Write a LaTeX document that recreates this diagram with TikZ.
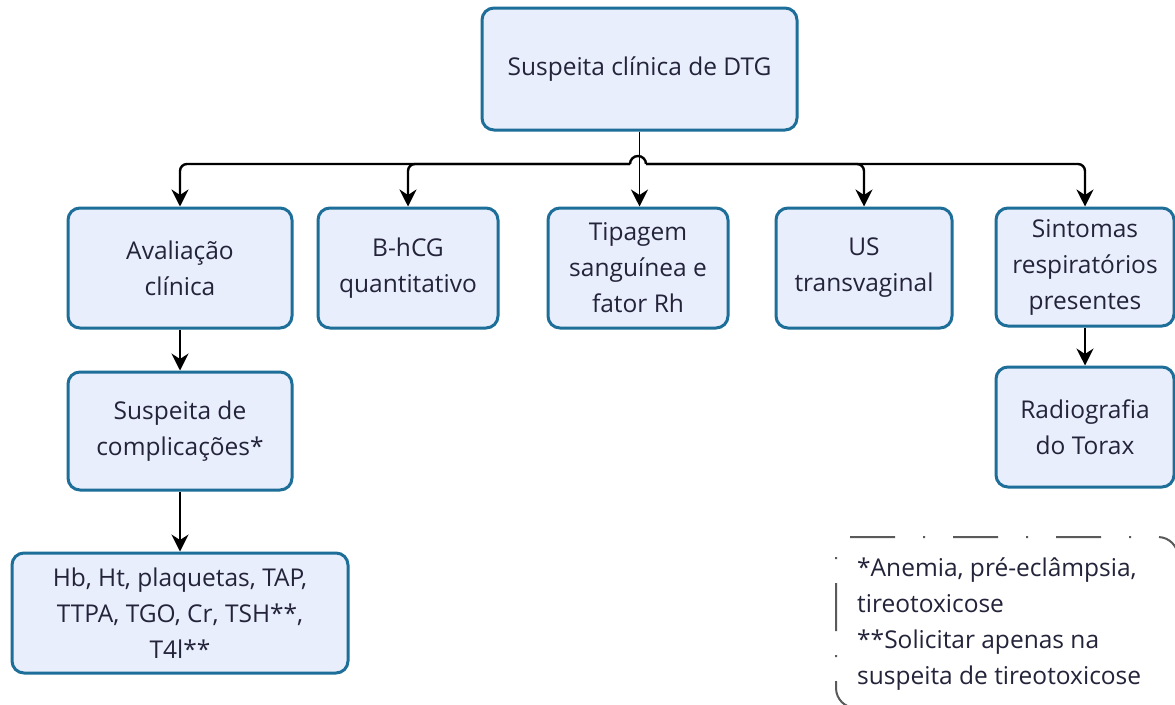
\documentclass[tikz,border=0pt]{standalone}
\usepackage{fontspec}
\setmainfont{Open Sans}
\usetikzlibrary{arrows.meta}
\definecolor{boxfill}{HTML}{E9EEFC}
\definecolor{boxline}{HTML}{1D6E98}
\definecolor{txt}{HTML}{23233A}
\definecolor{notegray}{HTML}{5A5A5A}
\tikzset{
  box/.style={draw=boxline, line width=3pt, fill=boxfill, rounded corners=12pt,
    align=center, text=txt, font=\fontsize{24.5}{36}\selectfont, inner sep=0pt},
  arr/.style={draw=black, line width=1.8pt, -{Stealth[length=17pt,width=17pt]}},
  bus/.style={draw=black, line width=2.4pt, rounded corners=7pt},
  notedash/.style={draw=notegray, line width=2pt, rounded corners=20pt, dash pattern=on 45pt off 28pt on 2pt off 28pt},
}
\begin{document}
\begin{tikzpicture}[x=1pt,y=-1pt]
\useasboundingbox (0,0) rectangle (1175,704);
\fill[white] (0,0) rectangle (1175,704);
\begin{scope}
\clip (0,0) rectangle (1175,704);
\coordinate (nA) at (850,537);
\coordinate (nB) at (836,557);
\draw[notedash] (nA) -- (1178,537) -- (1178,760);
\draw[notedash, dash pattern=on 2pt off 24pt on 48pt off 24pt] (nB) -- (836,708) -- (1100,708);
\end{scope}
\node[anchor=north west, align=left, text=txt, font=\fontsize{24.5}{36}\selectfont, inner sep=0pt]
  (notetext) at (857,558) {*Anemia, pré-eclâmpsia,\\tireotoxicose\\**Solicitar apenas na\\suspeita de tireotoxicose};

\node[box, minimum width=315pt, minimum height=122pt] (top) at (639.5,69) {Suspeita clínica de DTG};
\node[box, minimum width=224pt, minimum height=120pt] (aval) at (180,268) {Avaliação\\clínica};
\node[box, minimum width=180pt, minimum height=120pt] (bhcg) at (408,268) {B-hCG\\quantitativo};
\node[box, minimum width=180pt, minimum height=120pt] (tip) at (638,268) {Tipagem\\sanguínea e\\fator Rh};
\node[box, minimum width=176pt, minimum height=120pt] (us) at (864,268) {US\\transvaginal};
\node[box, minimum width=178pt, minimum height=118pt] (sint) at (1085,267) {Sintomas\\respiratórios\\presentes};
\node[box, minimum width=224pt, minimum height=118pt] (comp) at (180,431) {Suspeita de\\complicações*};
\node[box, minimum width=336pt, minimum height=120pt] (hb) at (180,613) {Hb, Ht, plaquetas, TAP,\\TTPA, TGO, Cr, TSH**,\\T4l**};
\node[box, minimum width=178pt, minimum height=120pt] (rad) at (1085,427) {Radiografia\\do Torax};

\coordinate (jl) at (630,164);
\coordinate (jr) at (646,164);
\draw[arr, line width=1.4pt] (top.south) -- (top.south |- tip.north);
\draw[draw=black, line width=2.4pt] (jl) arc[start angle=180, end angle=0, radius=8pt];
\draw[bus, arr, line width=2.4pt] (jl) -| (aval.north);
\draw[bus, arr, line width=2.4pt] (jl) -| (bhcg.north);
\draw[bus, arr, line width=2.4pt] (jr) -| (us.north);
\draw[bus, arr, line width=2.4pt] (jr) -| (sint.north);
\draw[arr] (aval.south) -- (comp.north);
\draw[arr] (comp.south) -- (hb.north);
\draw[arr] (sint.south) -- (rad.north);
\end{tikzpicture}
\end{document}
